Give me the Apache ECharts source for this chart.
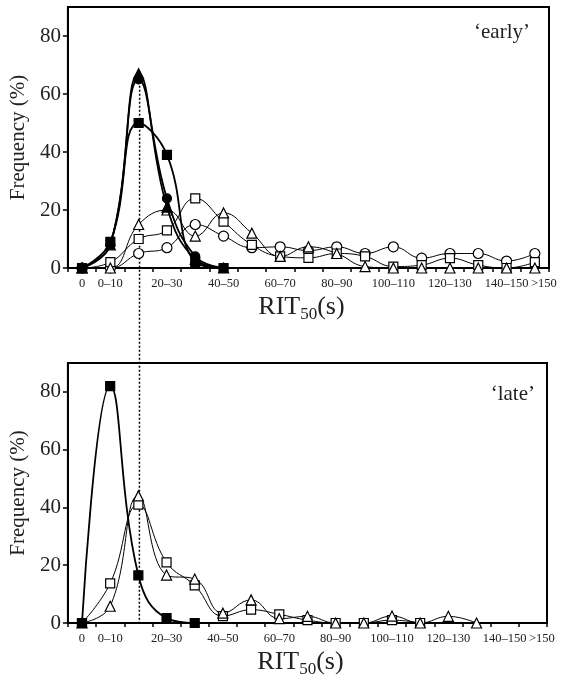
<!DOCTYPE html>
<html>
<head>
<meta charset="utf-8">
<script src="https://cdn.jsdelivr.net/npm/echarts@6/dist/echarts.min.js"></script>
<style>
  html, body { margin: 0; padding: 0; background: #fff; }
  #chart { width: 565px; height: 679px; }
</style>
</head>
<body>
<div id="chart"></div>
<script>
// categories of RIT50 (s)
var categories = ["0", "0–10", "10–20", "20–30", "30–40", "40–50", "50–60", "60–70", "70–80",
  "80–90", "90–100", "100–110", "110–120", "120–130", "130–140", "140–150", ">150"];
var shownLabels = [0, 1, 3, 5, 7, 9, 11, 13, 15, 16];
var yTicks = [0, 20, 40, 60, 80];

// 'early'
var earlyFilledSquare = [0, 9, 50, 39, 2, 0];
var earlyFilledCircle = [0, 8, 65, 24, 4, 0];
var earlyFilledTriangle = [0, 8, 67, 21, 3, 0];
var earlyOpenSquare = [0, 2, 10, 13, 24, 16, 8, 4, 3.5, 5, 4, 0.5, 1, 3.4, 1, 0, 2];
var earlyOpenCircle = [0, 0, 5, 7, 15, 11, 7, 7.3, 6, 7.3, 5, 7.3, 3.4, 5, 5, 2.4, 5];
var earlyOpenTriangle = [0, 0, 15, 20, 11, 19, 12, 4, 7.3, 5, 0.5, 0, 0, 0, 0, 0, 0];

// 'late'
var lateFilledSquare = [0, 82, 16.5, 1.7, 0];
var lateOpenSquare = [0, 13.7, 41, 21, 13, 2.4, 4.6, 3, 1, 0, 0, 1, 0];
var lateOpenTriangle = [0, 5.8, 44, 16.6, 15.2, 3.4, 8, 1.5, 2.3, 0, 0, 2.4, 0, 2.3, 0];

var peakIndex = 2;
var peakValue = 67;

var font = "Liberation Serif";
var ink = "#222";

function xAxisFor(gi) {
  return {
    type: "category",
    gridIndex: gi,
    data: categories,
    boundaryGap: true,
    name: "RIT{sub|50}(s)",
    nameLocation: "middle",
    nameGap: 24,
    nameTextStyle: {
      fontFamily: font, fontSize: 26, color: ink, padding: [0, 14, 0, 0],
      rich: { sub: { fontFamily: font, fontSize: 17, color: ink, verticalAlign: "bottom", padding: [14, 0, 0, 0] } }
    },
    axisLine: { lineStyle: { color: "#000", width: 2 } },
    axisTick: { show: true, interval: 0, length: 4, lineStyle: { color: "#000", width: 1.5 } },
    axisLabel: {
      interval: 0,
      hideOverlap: false,
      formatter: function (v, i) {
        if (shownLabels.indexOf(i) < 0) return "";
        return i === categories.length - 1 ? "{last|" + v + "}" : v;
      },
      rich: { last: { fontFamily: font, fontSize: 12.5, color: ink, padding: [0, 0, 0, 18] } },
      fontFamily: font, fontSize: 12.5, color: ink, margin: 9
    },
    splitLine: { show: false }
  };
}

function yAxisFor(gi) {
  return {
    type: "value",
    gridIndex: gi,
    min: 0, max: 90, interval: 20,
    name: "Frequency (%)",
    nameLocation: "middle",
    nameGap: 27,
    nameTextStyle: { fontFamily: font, fontSize: 21, color: ink },
    axisLine: { show: true, lineStyle: { color: "#000", width: 2 } },
    axisTick: { show: true, length: 5, lineStyle: { color: "#000", width: 1.5 } },
    axisLabel: {
      showMaxLabel: false,
      formatter: function (v) { return yTicks.indexOf(v) >= 0 ? String(v) : ""; },
      fontFamily: font, fontSize: 21, color: ink, margin: 7
    },
    splitLine: { show: false }
  };
}

function line(gi, data, symbol, filled, size) {
  return {
    type: "line",
    xAxisIndex: gi, yAxisIndex: gi,
    data: data,
    smooth: 0.45,
    symbol: symbol,
    symbolSize: size || 9,
    lineStyle: { color: "#000", width: filled ? 1.8 : 1 },
    itemStyle: { color: filled ? "#000" : "#fff", borderColor: "#000", borderWidth: 1.2 },
    z: filled ? 3 : 2
  };
}

var chart = echarts.init(document.getElementById("chart"));
chart.setOption({
  animation: false,
  backgroundColor: "#fff",
  title: [
    { text: "‘early’", right: 30, top: 17, textStyle: { fontFamily: font, fontSize: 21, fontWeight: "normal", color: ink } },
    { text: "‘late’", right: 25, top: 379, textStyle: { fontFamily: font, fontSize: 21, fontWeight: "normal", color: ink } }
  ],
  grid: [
    { left: 65, right: 16, top: 7, height: 261, show: true, borderColor: "#000", borderWidth: 2 },
    { left: 65, right: 18, top: 363, height: 262, show: true, borderColor: "#000", borderWidth: 2 }
  ],
  xAxis: [xAxisFor(0), xAxisFor(1)],
  yAxis: [yAxisFor(0), yAxisFor(1)],
  series: [
    line(0, earlyOpenCircle, "circle", false, 10),
    line(0, earlyOpenSquare, "rect", false),
    line(0, earlyOpenTriangle, "triangle", false, 10),
    line(0, earlyFilledSquare, "rect", true),
    line(0, earlyFilledCircle, "circle", true),
    line(0, earlyFilledTriangle, "triangle", true, 10),
    line(1, lateOpenSquare, "rect", false),
    line(1, lateOpenTriangle, "triangle", false, 10),
    line(1, lateFilledSquare, "rect", true)
  ]
});

// dotted guide from the 'early' peak down to the 'late' axis
var pTop = chart.convertToPixel({ xAxisIndex: 0, yAxisIndex: 0 }, [peakIndex, peakValue]);
var pBot = chart.convertToPixel({ xAxisIndex: 1, yAxisIndex: 1 }, [peakIndex, 0]);
chart.setOption({
  graphic: [{
    type: "line",
    shape: { x1: pTop[0] + 1, y1: pTop[1], x2: pBot[0] + 1, y2: pBot[1] },
    style: { stroke: "#000", lineWidth: 1.5, lineDash: [2, 2] },
    z: 1
  }]
});
</script>
</body>
</html>
